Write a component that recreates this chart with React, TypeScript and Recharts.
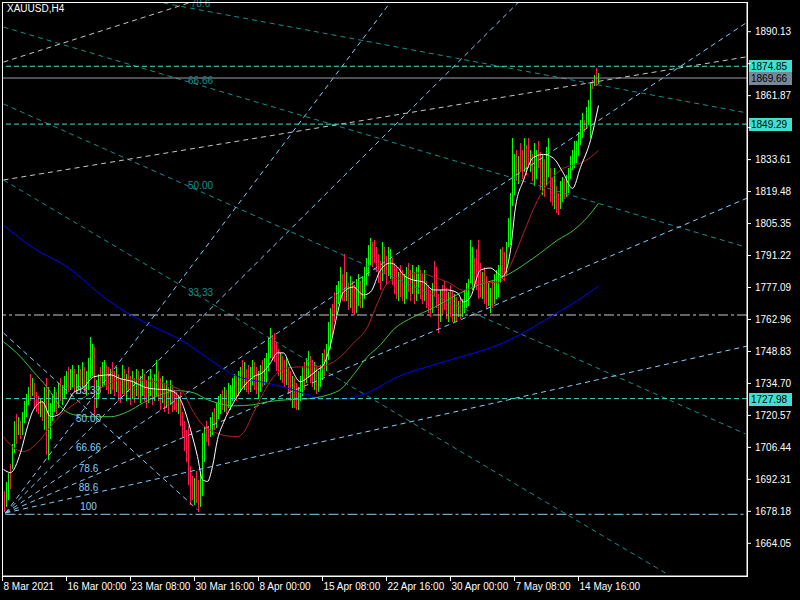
import React from 'react';
import { ComposedChart, Bar, Cell, Line, XAxis, YAxis, ReferenceLine, ReferenceDot } from 'recharts';

// ---- H4 bars (high / low / up=1, down=0) ----
const barHigh = [
  1687,1691,1695,1699,1708,1718,1721,1720,1718,1722,
  1727,1730,1733,1739,1737,1735,1731,1729,1728,1727,
  1733,1737,1733,1726,1730,1733,1731,1735,1737,1734,
  1738,1740,1742,1741,1743,1741,1739,1743,1741,1744,
  1742,1740,1746,1755,1752,1751,1736,1739,1742,1744,
  1745,1743,1742,1741,1744,1740,1742,1739,1737,1743,
  1741,1739,1742,1738,1740,1737,1741,1740,1738,1741,
  1739,1736,1738,1741,1737,1739,1745,1740,1737,1738,
  1735,1736,1733,1736,1734,1732,1731,1729,1731,1722,
  1718,1714,1716,1698,1694,1693,1696,1692,1695,1713,
  1716,1718,1716,1720,1722,1724,1726,1729,1730,1732,
  1733,1732,1735,1734,1737,1739,1738,1740,1742,1745,
  1744,1741,1743,1742,1745,1744,1742,1740,1743,1745,
  1746,1748,1755,1759,1756,1757,1753,1750,1748,1747,
  1745,1746,1742,1740,1738,1737,1735,1733,1738,1742,
  1744,1746,1749,1747,1745,1744,1742,1740,1743,1748,
  1750,1752,1762,1768,1770,1775,1778,1780,1786,1783,
  1792,1784,1779,1782,1780,1778,1781,1783,1780,1782,
  1786,1790,1796,1799,1797,1798,1795,1792,1789,1797,
  1795,1791,1795,1794,1790,1788,1786,1784,1787,1785,
  1783,1786,1788,1785,1787,1784,1786,1787,1785,1783,
  1785,1780,1778,1776,1779,1789,1786,1774,1776,1778,
  1780,1777,1775,1778,1776,1774,1773,1771,1773,1772,
  1776,1779,1781,1798,1795,1790,1794,1798,1788,1784,
  1786,1782,1779,1777,1780,1783,1785,1787,1794,1795,
  1793,1797,1808,1819,1843,1836,1838,1835,1841,1838,
  1843,1840,1843,1838,1836,1841,1838,1842,1837,1836,
  1834,1839,1843,1830,1826,1830,1822,1819,1824,1826,
  1825,1827,1830,1835,1838,1842,1842,1846,1851,1854,
  1851,1857,1860,1868,1869,1871,1874,1872,
];
const barLow = [
  1678,1680,1683,1688,1697,1704,1708,1712,1710,1712,
  1717,1720,1725,1727,1729,1724,1722,1721,1720,1718,
  1714,1703,1701,1710,1718,1722,1721,1724,1727,1725,
  1728,1730,1731,1732,1733,1731,1730,1732,1730,1733,
  1731,1729,1732,1737,1738,1720,1724,1728,1731,1733,
  1734,1732,1730,1730,1732,1729,1731,1727,1726,1730,
  1729,1727,1731,1725,1728,1726,1729,1728,1726,1729,
  1727,1724,1726,1729,1725,1727,1729,1727,1723,1726,
  1722,1724,1721,1725,1722,1723,1722,1721,1716,1711,
  1705,1700,1690,1681,1683,1681,1682,1678,1680,1685,
  1700,1709,1707,1711,1712,1714,1715,1719,1721,1723,
  1722,1721,1724,1723,1727,1728,1727,1729,1731,1733,
  1732,1731,1730,1731,1734,1732,1730,1728,1731,1733,
  1734,1735,1740,1746,1745,1744,1740,1738,1736,1735,
  1733,1734,1730,1727,1724,1724,1723,1723,1727,1729,
  1732,1735,1737,1735,1733,1732,1730,1731,1733,1736,
  1738,1740,1745,1750,1756,1762,1765,1770,1772,1771,
  1771,1771,1767,1768,1766,1765,1766,1769,1768,1768,
  1772,1778,1782,1787,1786,1788,1784,1779,1776,1780,
  1783,1778,1782,1781,1778,1774,1772,1771,1773,1771,
  1770,1772,1775,1771,1774,1770,1771,1774,1772,1770,
  1771,1768,1766,1764,1766,1773,1768,1757,1762,1765,
  1767,1763,1762,1764,1762,1762,1762,1764,1763,1764,
  1766,1768,1769,1779,1776,1777,1776,1772,1773,1772,
  1770,1768,1769,1766,1768,1770,1772,1773,1779,1781,
  1780,1782,1795,1796,1813,1818,1824,1823,1828,1825,
  1828,1827,1830,1828,1824,1822,1825,1830,1820,1818,
  1817,1822,1826,1815,1813,1812,1810,1809,1812,1815,
  1816,1817,1819,1825,1829,1830,1832,1835,1840,1843,
  1846,1847,1849,1843,1865,1866,1866,1867,
];
const barUp = [
  0,1,1,0,1,1,0,1,0,1, 1,1,1,0,1,0,0,0,1,0, 1,0,1,1,1,1,0,1,0,1, 1,1,0,1,1,0,1,1,0,1,
  0,1,1,1,1,0,1,1,0,1, 1,0,0,1,0,0,1,0,0,1, 0,1,0,0,1,0,1,0,1,1, 0,0,1,1,0,1,1,0,0,1,
  0,1,0,1,0,0,0,1,0,0, 0,0,0,0,0,1,0,0,1,1, 1,0,0,1,1,0,1,1,1,0, 1,0,1,1,1,1,0,1,1,0,
  1,0,0,1,1,0,0,1,1,0, 1,1,1,1,0,0,0,0,1,0, 0,1,0,0,1,0,0,1,1,1, 0,1,1,0,0,1,0,1,1,1,
  0,1,1,1,0,0,1,1,1,0, 0,1,0,1,0,0,1,1,0,1, 1,1,1,1,0,0,0,0,0,1, 0,0,1,1,0,0,0,1,0,0,
  1,1,0,0,1,0,1,1,0,0, 1,0,0,0,1,0,0,0,1,0, 0,0,1,0,0,1,0,1,0,1, 1,1,1,1,1,0,0,0,0,1,
  0,0,1,1,0,1,1,1,1,0, 0,1,1,1,1,1,0,1,0,0, 1,0,0,1,0,1,1,0,0,1, 0,1,1,0,0,1,0,0,1,1,
  0,1,1,1,1,1,1,1,1,1, 0,1,1,1,0,1,0,1,
];

// ---- moving averages: [bar, price] ----
const maFast = [
  [-0.5,1696.7],[3,1695.3],[8,1704.1],[11.5,1715.6],[14.5,1723.1],[19,1726.6],[23,1720.0],[27,1720.9],
  [31.5,1726.2],[34.5,1730.6],[39.5,1732.8],[44.5,1737.6],[53,1738.5],[58,1736.8],[64.5,1735.4],
  [69.5,1733.2],[74.5,1732.3],[81.5,1731.9],[86.5,1729.7],[89.5,1724.4],[93,1714.3],[96.5,1702.4],
  [99,1692.2],[101.5,1691.4],[104,1698.0],[106.5,1709.9],[109.5,1717.4],[114.5,1726.2],[119.5,1733.2],
  [124.5,1737.6],[129.5,1739.8],[133,1743.8],[136.5,1748.2],[139.5,1748.2],[143,1742.0],[148,1735.4],
  [151.5,1737.2],[156.5,1740.7],[159.5,1742.9],[163,1751.7],[166.5,1765.8],[169.5,1775.1],[174.5,1777.3],
  [179.5,1773.8],[183,1775.1],[188,1784.8],[193,1787.9],[196.5,1786.1],[199.5,1782.6],[204.5,1780.4],
  [209.5,1779.5],[214.5,1776.0],[221.5,1776.0],[226.5,1774.7],[229.5,1770.7],[233,1772.9],[238,1784.8],
  [243,1785.7],[246.5,1783.5],[249,1782.0],[253,1793.6],[255.5,1812.6],[259.5,1824.5],[264.5,1834.6],
  [269.5,1835.9],[274.5,1834.2],[279.5,1827.5],[284,1820.9],[288,1830.2],[293,1842.1],[297,1857.5],
];
const maMid = [
  [-0.5,1711.2],[4.5,1706.3],[9.5,1704.6],[16.5,1708.5],[23,1715.6],[29.5,1721.8],[38,1727.5],
  [44.5,1731.0],[51.5,1734.1],[58,1736.3],[64.5,1736.3],[71.5,1735.9],[78,1735.0],[84.5,1733.2],
  [89.5,1730.6],[93,1724.4],[98,1717.4],[104.5,1713.4],[111.5,1711.5],[116.5,1711.2],[119.5,1713.0],
  [124.5,1721.8],[129.5,1730.6],[134.5,1737.6],[141.5,1741.6],[148,1742.0],[154.5,1742.0],[161.5,1742.9],
  [168,1746.5],[174.5,1752.6],[181.5,1759.6],[186.5,1770.2],[191.5,1779.1],[198,1781.7],[208,1783.5],
  [214.5,1781.7],[221.5,1779.5],[229.5,1775.9],[239.5,1779.1],[248,1779.5],[253,1787.0],[259.5,1801.1],
  [266.5,1815.6],[273,1824.5],[279.5,1829.8],[288,1832.0],[293,1834.6],[297,1837.7],
];
const maSlow = [
  [-0.5,1753.1],[8,1746.5],[14.5,1739.8],[21.5,1732.8],[28,1724.4],[34.5,1720.9],[44.5,1720.0],
  [53,1720.0],[61.5,1722.2],[69.5,1726.2],[78,1729.7],[86.5,1731.5],[94.5,1730.6],[101.5,1727.5],
  [108,1725.7],[114.5,1724.8],[124.5,1725.3],[131.5,1726.6],[141.5,1727.5],[151.5,1727.9],[158,1728.8],
  [164.5,1730.5],[168,1732.0],[174.5,1738.6],[181.5,1746.5],[188,1751.8],[194.5,1758.5],[204.5,1764.1],
  [214.5,1768.1],[221.5,1771.6],[228,1774.7],[234.5,1777.3],[241.5,1779.5],[248,1781.3],[264.5,1790.1],
  [276.5,1798.0],[284.5,1802.4],[291.5,1808.2],[297,1814.3],
];
const maLong = [
  [-0.5,1804.6],[14.5,1794.5],[31.5,1786.1],[51.5,1771.6],[63,1765.0],[74.5,1759.7],[88,1754.0],
  [101.5,1746.0],[114.5,1738.5],[128,1735.4],[139.5,1733.2],[151.5,1729.7],[159.5,1727.5],[169.5,1727.9],
  [181.5,1730.6],[196.5,1737.6],[214.5,1742.9],[231.5,1747.3],[244.5,1750.9],[254.5,1754.8],
  [264.5,1759.7],[274.5,1765.0],[284.5,1770.2],[297,1777.7],
];

// ---- axes ----
const timeTickBars = [-1, 31, 63, 95, 127, 159, 191, 223, 255, 287];
const timeTickLabels = ['8 Mar 2021', '16 Mar 00:00', '23 Mar 08:00', '30 Mar 16:00', '8 Apr 00:00',
  '15 Apr 08:00', '22 Apr 16:00', '30 Apr 00:00', '7 May 08:00', '14 May 16:00'];
const priceTicks = [1664.05, 1678.18, 1692.31, 1706.44, 1720.57, 1734.70, 1748.83, 1762.96, 1777.09,
  1791.22, 1805.35, 1819.48, 1833.61, 1847.74, 1861.87, 1876.00, 1890.13];

// ---- objects ----
const cyanLevels = [1874.85, 1849.29, 1727.98];
const bidPrice = 1869.66;
const grayDashDotLevel = 1764.94;
const fanBaseLevel = 1676.87;
// segments [bar1, price1, bar2, price2]
const skyFanLines = [
  [0.5, 1677.45, 193, 1903.2],
  [0.5, 1677.45, 257, 1903.2],
  [0.5, 1677.45, 371.5, 1894.4],
  [0.5, 1677.45, 371.5, 1816.65],
  [0.5, 1677.45, 371.5, 1751.24],
  [-0.5, 1757.0, 96.5, 1678.9],
];
const tealFanLines = [
  [79.5, 1902.8, 371.5, 1854.2],
  [-0.5, 1892.2, 370.5, 1795.0],
  [-0.5, 1858.2, 370.5, 1712.4],
  [-0.5, 1824.6, 330.5, 1650.9],
];
const grayTrendLines = [
  [-0.5, 1876.7, 93.5, 1903.2],
  [-0.5, 1824.6, 370.5, 1878.95],
];
const tealFanLabels = [
  ['78.6', 98, 1902.6], ['66.66', 98, 1868.8], ['50.00', 98, 1822.0], ['33.33', 98, 1775.1],
];
const skyFanLabels = [
  ['33.33', 42, 1731.4], ['50.00', 42, 1719.2], ['66.66', 42, 1706.3],
  ['78.6', 42, 1697.1], ['88.6', 42, 1688.7], ['100', 42, 1680.3],
];

const FONT = '"Liberation Sans", Arial, sans-serif';
const TEAL = '#14908f';
const SKY = '#87cefa';
const CYAN = '#3fe0d0';
const GRAY = '#c8c8c8';
const UP = '#00ff00';
const DOWN = '#ff1a4a';

// price tags drawn on the right of the horizontal lines
const tag = (text: string, bg: string) => (props: any) => {
  const vb = props.viewBox || {};
  const x = (vb.x ?? 0) + (vb.width ?? 0) + 2;
  const y = Math.round(vb.y ?? 0);
  return (
    <g>
      <rect x={x} y={y - 6} width={43} height={13} fill={bg} />
      <text x={x + 2} y={y + 4} fontSize={10} fill="#000" fontFamily={FONT}>{text}</text>
    </g>
  );
};

const hiddenPriceLabels = [1876.0, 1847.74];

const PriceTick = (p: any) => {
  const v = p.payload.value as number;
  if (hiddenPriceLabels.some((h) => Math.abs(h - v) < 0.001)) return <g />;
  return (
    <text x={p.x} y={p.y} dy="0.355em" textAnchor="start" fill="#fff" fontSize={10} fontFamily={FONT}>
      {v.toFixed(2)}
    </text>
  );
};

const TimeTick = (p: any) => {
  const k = timeTickBars.indexOf(p.payload.value);
  return (
    <text x={p.x + 1} y={p.y} dy="0.71em" textAnchor="start" fill="#fff" fontSize={10} fontFamily={FONT}>
      {k >= 0 ? timeTickLabels[k] : ''}
    </text>
  );
};

export default function App() {
  const bars = barHigh.map((h, k) => ({ i: k, range: [barLow[k], h], up: barUp[k] }));
  const pts = (arr: number[][]) => arr.map(([i, v]) => ({ i, v }));
  return (
    <div style={{ position: 'absolute', left: 0, top: 0, width: 800, height: 600, background: '#000', overflow: 'hidden' }}>
      <style>{'.recharts-bar-rectangle path{shape-rendering:crispEdges}'}</style>
      <ComposedChart width={800} height={600} data={bars} margin={{ top: 2, right: 0, bottom: 2, left: 2 }}
        style={{ fontFamily: FONT }}>
        <XAxis dataKey="i" type="number" domain={[-1.25, 371.25]} allowDataOverflow ticks={timeTickBars}
          interval={0} tick={<TimeTick />} tickSize={5} tickMargin={2} stroke="#fff" height={22} />
        <YAxis orientation="right" type="number" domain={[1649.61, 1903.25]} allowDataOverflow
          ticks={priceTicks} interval={0} tickSize={4} tickMargin={4} width={53} stroke="#fff"
          tick={<PriceTick />} />

        {tealFanLines.map((s, k) => (
          <ReferenceLine key={'t' + k} segment={[{ x: s[0], y: s[1] }, { x: s[2], y: s[3] }]}
            stroke={TEAL} strokeDasharray="5 4" ifOverflow="hidden" />
        ))}
        {grayTrendLines.map((s, k) => (
          <ReferenceLine key={'g' + k} segment={[{ x: s[0], y: s[1] }, { x: s[2], y: s[3] }]}
            stroke={GRAY} strokeDasharray="5 4" ifOverflow="hidden" />
        ))}
        {skyFanLines.map((s, k) => (
          <ReferenceLine key={'s' + k} segment={[{ x: s[0], y: s[1] }, { x: s[2], y: s[3] }]}
            stroke={SKY} strokeDasharray="5 4" ifOverflow="hidden" />
        ))}
        <ReferenceLine segment={[{ x: 0.5, y: fanBaseLevel }, { x: 371.25, y: fanBaseLevel }]}
          stroke={SKY} strokeDasharray="10 3 3 3" ifOverflow="hidden" />
        <ReferenceLine y={grayDashDotLevel} stroke={GRAY} strokeDasharray="10 3 3 3" />

        {tealFanLabels.map((l, k) => (
          <ReferenceDot key={'tl' + k} x={l[1] as number} y={l[2] as number} r={0} fill="none" stroke="none"
            ifOverflow="visible"
            label={{ value: l[0] as string, position: 'center', fill: TEAL, fontSize: 10, fontFamily: FONT }} />
        ))}
        {skyFanLabels.map((l, k) => (
          <ReferenceDot key={'sl' + k} x={l[1] as number} y={l[2] as number} r={0} fill="none" stroke="none"
            ifOverflow="visible"
            label={{ value: l[0] as string, position: 'center', fill: SKY, fontSize: 10, fontFamily: FONT }} />
        ))}

        <Bar dataKey="range" barSize={1} fill={UP} isAnimationActive={false}>
          {bars.map((b, k) => (
            <Cell key={'b' + k} fill={b.up ? UP : DOWN} stroke="none" />
          ))}
        </Bar>

        <Line data={pts(maLong)} dataKey="v" type="monotone" stroke="#0000ff" strokeWidth={1} dot={false} isAnimationActive={false} />
        <Line data={pts(maSlow)} dataKey="v" type="monotone" stroke="#3cc43c" strokeWidth={1} dot={false} isAnimationActive={false} />
        <Line data={pts(maMid)} dataKey="v" type="monotone" stroke="#b22222" strokeWidth={1} dot={false} isAnimationActive={false} />
        <Line data={pts(maFast)} dataKey="v" type="monotone" stroke="#ffffff" strokeWidth={1} dot={false} isAnimationActive={false} />

        {cyanLevels.map((v, k) => (
          <ReferenceLine key={'c' + k} y={v} stroke={CYAN} strokeDasharray="5 3" label={tag(v.toFixed(2), CYAN)} />
        ))}
        <ReferenceLine y={bidPrice} stroke="#96a0aa" label={tag(bidPrice.toFixed(2), '#778899')} />
      </ComposedChart>
      <div style={{ position: 'absolute', left: 2, top: 2, width: 744, height: 573, border: '1px solid #fff', pointerEvents: 'none' }} />
      <div style={{ position: 'absolute', left: 7, top: 3, color: '#fff', fontSize: 10, fontFamily: FONT, pointerEvents: 'none' }}>XAUUSD,H4</div>
    </div>
  );
}
